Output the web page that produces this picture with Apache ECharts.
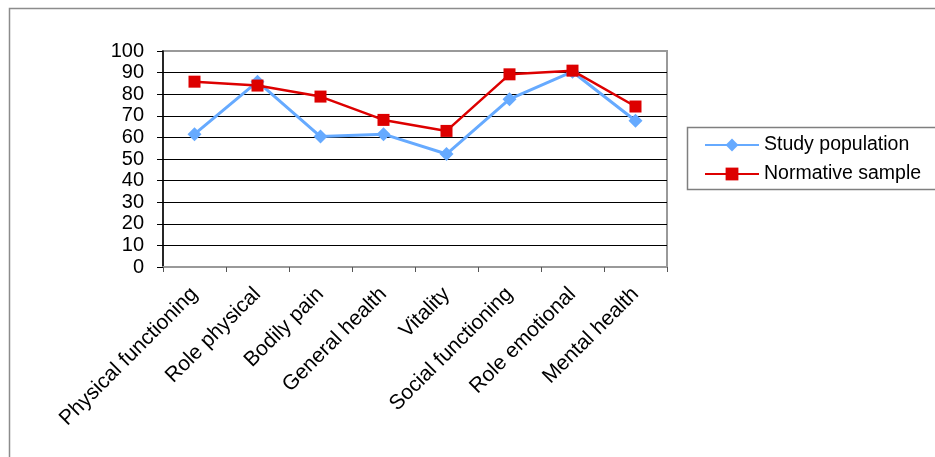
<!DOCTYPE html>
<html>
<head>
<meta charset="utf-8">
<script src="https://cdn.jsdelivr.net/npm/echarts@6/dist/echarts.min.js"></script>
<style>
html,body{margin:0;padding:0;background:#fff;}
#c{width:935px;height:457px;}
</style>
</head>
<body>
<div id="c"></div>
<script>
var categories = ['Physical functioning','Role physical','Bodily pain','General health','Vitality','Social functioning','Role emotional','Mental health'];
var studyPopulation = [61.5, 85.8, 60.4, 61.5, 52.3, 77.7, 90.4, 67.7];
var normativeSample = [85.8, 84.0, 78.9, 68.1, 63.0, 89.2, 90.9, 74.3];
var yTicks = [0,10,20,30,40,50,60,70,80,90,100];

var chart = echarts.init(document.getElementById('c'), null, {renderer:'canvas'});
var font = 'Arial, "Liberation Sans", sans-serif';
var splitColors = yTicks.map(function(v){ return (v === 100 || v === 0) ? '#999999' : '#000000'; });

chart.setOption({
  animation: false,
  backgroundColor: '#ffffff',
  graphic: [
    {type:'rect', shape:{x: 9.5, y: 8.5, width: 940, height: 460}, style:{fill:'none', stroke:'#8c8c8c', lineWidth:1.5}, z: -1},
    {type:'rect', shape:{x: 687.5, y: 127.5, width: 260, height: 62}, style:{fill:'#fff', stroke:'#7f7f7f', lineWidth:1.5}, z: 1}
  ],
  legend: {
    orient: 'vertical',
    left: 704,
    top: 135,
    padding: 0,
    itemWidth: 54,
    itemHeight: 16,
    itemGap: 9,
    textStyle: {fontFamily: font, fontSize: 19.5, lineHeight: 20, color:'#000'},
    data: ['Study population', 'Normative sample'],
    z: 5
  },
  grid: {
    left: 163, top: 51, right: 268, bottom: 190,
    show: true, borderColor:'#999999', borderWidth: 2, backgroundColor:'#fff'
  },
  xAxis: {
    type: 'category',
    data: categories,
    boundaryGap: true,
    axisLine: {lineStyle:{color:'#999999', width:2}},
    axisTick: {show:true, length:5, alignWithLabel:false, lineStyle:{color:'#555', width:1}},
    axisLabel: {rotate: 45, interval: 0, fontFamily: font, fontSize: 21, color:'#000', margin: 24}
  },
  yAxis: {
    type: 'value',
    min: 0, max: 100, interval: 10,
    axisLine: {show:true, lineStyle:{color:'#000', width:1.5}},
    axisTick: {show:true, inside:false, length:6, lineStyle:{color:'#000'}},
    axisLabel: {fontFamily: font, fontSize: 20, color:'#000', margin: 19},
    splitLine: {show:true, lineStyle:{color: splitColors, width:1}}
  },
  series: [
    {
      name: 'Study population',
      type: 'line',
      data: studyPopulation,
      symbol: 'diamond',
      symbolSize: 14,
      itemStyle: {color:'#66aaff'},
      lineStyle: {color:'#66aaff', width:3},
      z: 2
    },
    {
      name: 'Normative sample',
      type: 'line',
      data: normativeSample,
      symbol: 'rect',
      symbolSize: 12,
      itemStyle: {color:'#dd0000'},
      lineStyle: {color:'#dd0000', width:2.5},
      z: 3
    }
  ]
});
</script>
</body>
</html>
